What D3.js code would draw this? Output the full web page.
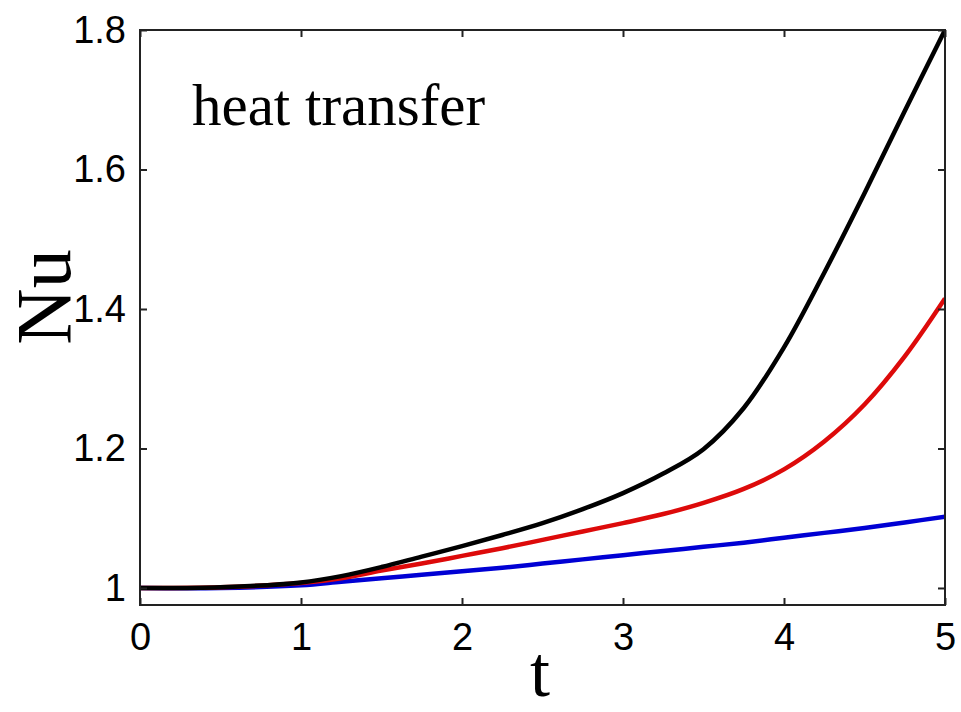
<!DOCTYPE html>
<html>
<head>
<meta charset="utf-8">
<script src="https://cdn.jsdelivr.net/npm/d3@7"></script>
<style>
html,body{margin:0;padding:0;background:#fff;}
svg{display:block;}
</style>
</head>
<body>
<svg id="chart" width="961" height="712"></svg>
<script>
const tValues = [0, 0.5, 1.0, 1.25, 1.5, 1.75, 2.0, 2.25, 2.5, 2.75, 3.0, 3.25, 3.5, 3.75, 4.0, 4.25, 4.5, 4.75, 5.0];
const nuBlack = [1.0, 1.001, 1.008, 1.017, 1.030, 1.045, 1.060, 1.076, 1.093, 1.113, 1.136, 1.164, 1.199, 1.258, 1.345, 1.452, 1.566, 1.684, 1.80];
const nuRed   = [1.0, 1.001, 1.007, 1.014, 1.025, 1.035, 1.046, 1.057, 1.069, 1.081, 1.093, 1.106, 1.122, 1.142, 1.170, 1.210, 1.263, 1.332, 1.415];
const nuBlue  = [1.0, 1.0, 1.004, 1.009, 1.014, 1.019, 1.024, 1.029, 1.035, 1.041, 1.047, 1.053, 1.059, 1.065, 1.072, 1.079, 1.086, 1.094, 1.102];
const xTicks = [0, 1, 2, 3, 4, 5];
const yTicks = [1, 1.2, 1.4, 1.6, 1.8];
const yTickLabels = ["1", "1.2", "1.4", "1.6", "1.8"];
const annotation = "heat transfer";
const xLabel = "t";
const yLabel = "Nu";

const svg = d3.select("#chart");
const L = 140, R = 945, T = 30, B = 605;
const x = d3.scaleLinear().domain([0, 5]).range([L, R]);
const y = d3.scaleLinear().domain([0.9756, 1.8]).range([B, T]);

svg.append("defs").append("clipPath").attr("id", "clip")
  .append("rect").attr("x", L).attr("y", T - 2).attr("width", R - L).attr("height", B - T + 2);

const line = d3.line().x(d => x(d[0])).y(d => y(d[1])).curve(d3.curveCatmullRom.alpha(0.5));
const series = [
  {vals: nuBlue, color: "#0000d4"},
  {vals: nuRed, color: "#dd0a0a"},
  {vals: nuBlack, color: "#000000"}
];
const g = svg.append("g").attr("clip-path", "url(#clip)");
series.forEach(s => {
  g.append("path")
    .datum(tValues.map((t, i) => [t, s.vals[i]]))
    .attr("d", line)
    .attr("fill", "none")
    .attr("stroke", s.color)
    .attr("stroke-width", 4.5)
    .attr("stroke-linejoin", "round");
});

// frame
svg.append("rect").attr("x", L).attr("y", T).attr("width", R - L).attr("height", B - T)
  .attr("fill", "none").attr("stroke", "#222").attr("stroke-width", 2);

const tl = 7;
const axB = svg.append("g").attr("transform", `translate(0,${B})`)
  .call(d3.axisBottom(x).tickValues(xTicks).tickSizeInner(-tl).tickSizeOuter(0).tickPadding(18).tickFormat(d3.format("d")));
const axT = svg.append("g").attr("transform", `translate(0,${T})`)
  .call(d3.axisTop(x).tickValues(xTicks).tickSizeInner(-tl).tickSizeOuter(0).tickFormat(""));
const axL = svg.append("g").attr("transform", `translate(${L},0)`)
  .call(d3.axisLeft(y).tickValues(yTicks).tickSizeInner(-tl).tickSizeOuter(0).tickPadding(14).tickFormat((d, i) => yTickLabels[i]));
const axR = svg.append("g").attr("transform", `translate(${R},0)`)
  .call(d3.axisRight(y).tickValues(yTicks).tickSizeInner(-tl).tickSizeOuter(0).tickFormat(""));
[axB, axT, axL, axR].forEach(a => {
  a.select(".domain").remove();
  a.selectAll(".tick line").attr("stroke", "#222").attr("stroke-width", 2);
  a.selectAll("text").attr("font-family", "'Liberation Sans', Arial, sans-serif").attr("font-size", 38).attr("fill", "#000");
});
axB.selectAll("text").attr("dy", "0.71em");

svg.append("text").attr("x", 192).attr("y", 125)
  .attr("font-family", "'Liberation Serif', 'Times New Roman', serif").attr("font-size", 59)
  .attr("fill", "#000").text(annotation);

svg.append("text").attr("x", 540).attr("y", 696).attr("text-anchor", "middle")
  .attr("font-family", "'Liberation Serif', 'Times New Roman', serif").attr("font-size", 72)
  .attr("fill", "#000").text(xLabel);

svg.append("text").attr("transform", "translate(70,297) rotate(-90)").attr("text-anchor", "middle")
  .attr("font-family", "'Liberation Serif', 'Times New Roman', serif").attr("font-size", 78)
  .attr("fill", "#000").text(yLabel);
</script>
</body>
</html>
